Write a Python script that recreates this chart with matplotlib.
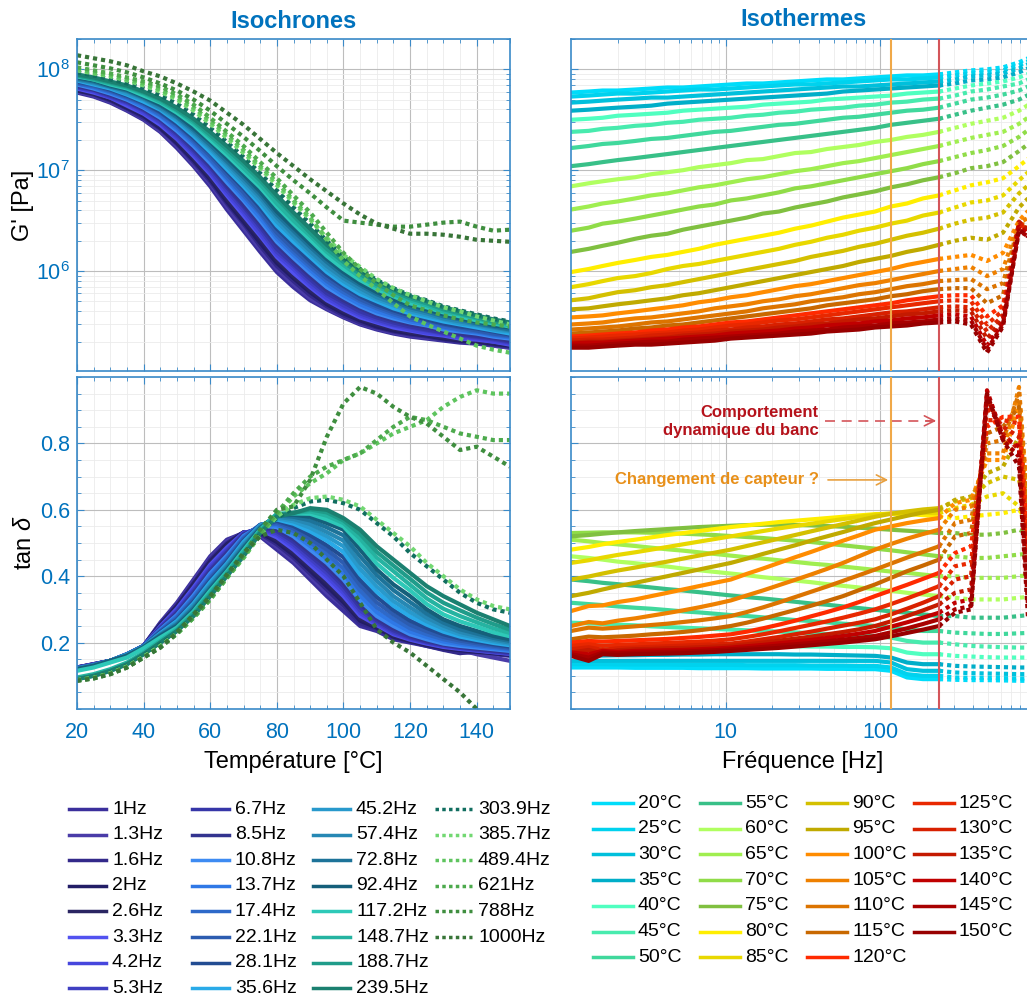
import numpy as np
import matplotlib
matplotlib.use('Agg')
from matplotlib import pyplot as plt
from matplotlib.ticker import MultipleLocator, LogLocator, NullFormatter, FixedLocator, FixedFormatter

plt.rcParams['font.family'] = ['Liberation Sans', 'DejaVu Sans']
plt.rcParams['mathtext.fontset'] = 'custom'
plt.rcParams['mathtext.rm'] = 'Liberation Sans'
plt.rcParams['mathtext.it'] = 'Liberation Sans:italic'

# ---- data -----------------------------------------------------------------
freqs = [1, 1.3, 1.6, 2, 2.6, 3.3, 4.2, 5.3, 6.7, 8.5, 10.8, 13.7, 17.4, 22.1, 28.1,
         35.6, 45.2, 57.4, 72.8, 92.4, 117.2, 148.7, 188.7, 239.5,
         303.9, 385.7, 489.4, 621, 788, 1000]
n_solid = 24          # 1Hz .. 239.5Hz drawn solid, above that dotted
freq_labels = ['%gHz' % f for f in freqs]

temps = [20, 25, 30, 35, 40, 45, 50, 55, 60, 65, 70, 75, 80, 85, 90, 95,
         100, 105, 110, 115, 120, 125, 130, 135, 140, 145, 150]
temp_labels = ['%d°C' % t for t in temps]

freq_colors = ['#3b2f9c', '#4a3ca8', '#33298a', '#221d66', '#2a2562', '#5252f0', '#4646dd', '#3f3fc2',
               '#3636a8', '#33348f', '#3d8bf2', '#2f78e6', '#2e69c9', '#2c5cb0', '#224c92', '#29aae8',
               '#2899cc', '#2688b4', '#1d7399', '#155f7a', '#2ec9b8', '#25b3a1', '#1f9c8a', '#1b8070',
               '#116e60', '#72d872', '#5ec45e', '#4daa4d', '#3f8e3f', '#387538']
temp_colors = ['#00dcfa', '#00d2ee', '#00c0dc', '#00aec8', '#50ffc0', '#48ebae', '#40d89c', '#38c088',
               '#b0ff60', '#a0ee50', '#90dc48', '#80c040', '#ffee00', '#e8d800', '#d4c000', '#c0aa00',
               '#ff8c00', '#ee8000', '#dc7400', '#c86800', '#ff2a00', '#e82800', '#d82000', '#c41a00',
               '#c00000', '#a80000', '#980000']

# log10(G' [Pa]), one row per temperature, one column per frequency
log_gp = [
    [7.77,7.78,7.79,7.79,7.80,7.81,7.82,7.82,7.83,7.84,7.85,7.86,7.86,7.87,7.88,7.89,7.90,7.90,7.91,7.92,7.93,7.94,7.94,7.95, 7.97,7.99,8.00,8.02,8.07,8.14],
    [7.73,7.74,7.75,7.76,7.76,7.77,7.78,7.79,7.80,7.80,7.81,7.82,7.83,7.84,7.85,7.85,7.86,7.87,7.88,7.89,7.90,7.90,7.91,7.92, 7.94,7.96,7.97,7.99,8.04,8.11],
    [7.67,7.68,7.69,7.70,7.71,7.72,7.72,7.73,7.74,7.75,7.76,7.77,7.78,7.79,7.80,7.81,7.82,7.83,7.83,7.84,7.85,7.86,7.87,7.88, 7.90,7.93,7.94,7.96,8.01,8.08],
    [7.59,7.60,7.61,7.62,7.63,7.64,7.66,7.67,7.68,7.69,7.70,7.71,7.72,7.73,7.74,7.75,7.76,7.78,7.79,7.80,7.81,7.82,7.83,7.84, 7.86,7.89,7.90,7.92,7.97,8.04],
    [7.50,7.51,7.52,7.54,7.55,7.56,7.57,7.59,7.60,7.61,7.62,7.63,7.65,7.66,7.67,7.68,7.70,7.71,7.72,7.73,7.74,7.76,7.77,7.78, 7.81,7.84,7.86,7.88,7.92,7.98],
    [7.38,7.39,7.41,7.42,7.44,7.45,7.47,7.48,7.50,7.51,7.52,7.54,7.55,7.57,7.58,7.60,7.61,7.62,7.64,7.65,7.67,7.68,7.70,7.71, 7.74,7.78,7.80,7.83,7.86,7.93],
    [7.22,7.24,7.26,7.27,7.29,7.31,7.32,7.34,7.36,7.38,7.39,7.41,7.43,7.45,7.46,7.48,7.50,7.52,7.53,7.55,7.57,7.59,7.60,7.62, 7.66,7.70,7.72,7.75,7.79,7.86],
    [7.04,7.06,7.08,7.10,7.12,7.14,7.16,7.18,7.20,7.22,7.24,7.26,7.28,7.30,7.32,7.34,7.36,7.38,7.40,7.42,7.45,7.47,7.49,7.51, 7.55,7.59,7.62,7.65,7.70,7.78],
    [6.84,6.87,6.89,6.91,6.93,6.96,6.98,7.00,7.03,7.05,7.07,7.10,7.11,7.14,7.17,7.18,7.21,7.23,7.25,7.28,7.30,7.33,7.35,7.38, 7.42,7.46,7.49,7.52,7.59,7.69],
    [6.61,6.64,6.67,6.69,6.72,6.75,6.77,6.80,6.83,6.85,6.88,6.91,6.93,6.96,6.99,7.01,7.04,7.07,7.09,7.12,7.15,7.18,7.21,7.24, 7.28,7.32,7.35,7.38,7.46,7.57],
    [6.40,6.43,6.47,6.49,6.52,6.55,6.58,6.61,6.64,6.66,6.70,6.72,6.75,6.78,6.82,6.84,6.87,6.90,6.93,6.96,6.99,7.02,7.06,7.09, 7.13,7.17,7.20,7.24,7.33,7.45],
    [6.19,6.22,6.25,6.28,6.32,6.35,6.37,6.41,6.44,6.47,6.50,6.53,6.57,6.59,6.63,6.66,6.69,6.73,6.76,6.79,6.83,6.86,6.90,6.93, 6.97,7.02,7.04,7.08,7.19,7.31],
    [5.99,6.02,6.05,6.08,6.11,6.14,6.16,6.19,6.22,6.26,6.29,6.32,6.35,6.38,6.42,6.45,6.49,6.53,6.56,6.59,6.64,6.67,6.72,6.75, 6.80,6.85,6.88,6.92,7.04,7.17],
    [5.84,5.87,5.90,5.93,5.95,5.98,6.02,6.05,6.07,6.10,6.13,6.16,6.19,6.22,6.26,6.29,6.33,6.36,6.40,6.43,6.47,6.50,6.55,6.58, 6.63,6.68,6.70,6.75,6.90,7.04],
    [5.71,5.73,5.76,5.79,5.81,5.84,5.86,5.89,5.92,5.95,5.98,6.01,6.04,6.07,6.10,6.14,6.17,6.20,6.24,6.27,6.31,6.35,6.38,6.42, 6.47,6.51,6.53,6.58,6.77,6.91],
    [5.62,5.63,5.65,5.67,5.69,5.71,5.73,5.76,5.78,5.81,5.84,5.87,5.90,5.93,5.96,5.99,6.02,6.05,6.09,6.12,6.15,6.19,6.22,6.26, 6.30,6.33,6.31,6.38,6.63,6.79],
    [5.54,5.55,5.56,5.58,5.60,5.62,5.64,5.66,5.69,5.71,5.74,5.76,5.79,5.82,5.85,5.87,5.90,5.93,5.96,5.99,6.02,6.06,6.09,6.12, 6.14,6.16,6.10,6.18,6.50,6.67],
    [5.47,5.48,5.49,5.51,5.53,5.54,5.56,5.58,5.60,5.63,5.65,5.67,5.70,5.72,5.75,5.77,5.80,5.83,5.86,5.88,5.91,5.94,5.97,6.00, 6.02,6.04,5.95,6.02,6.48,6.56],
    [5.42,5.43,5.44,5.45,5.47,5.49,5.50,5.52,5.54,5.56,5.58,5.60,5.63,5.65,5.67,5.70,5.72,5.74,5.77,5.79,5.82,5.85,5.87,5.90, 5.91,5.92,5.82,5.88,6.46,6.47],
    [5.38,5.39,5.40,5.41,5.43,5.44,5.46,5.47,5.49,5.51,5.53,5.55,5.57,5.59,5.61,5.63,5.66,5.68,5.70,5.72,5.75,5.77,5.80,5.82, 5.83,5.83,5.68,5.76,6.44,6.42],
    [5.35,5.36,5.37,5.38,5.39,5.41,5.42,5.44,5.45,5.47,5.49,5.50,5.52,5.54,5.56,5.58,5.60,5.62,5.64,5.66,5.68,5.71,5.73,5.75, 5.76,5.76,5.55,5.66,6.44,6.37],
    [5.33,5.34,5.35,5.36,5.37,5.38,5.39,5.41,5.42,5.44,5.46,5.47,5.49,5.51,5.52,5.54,5.56,5.58,5.60,5.62,5.64,5.66,5.68,5.70, 5.71,5.70,5.47,5.61,6.46,6.37],
    [5.31,5.32,5.32,5.33,5.34,5.36,5.37,5.38,5.39,5.41,5.42,5.44,5.45,5.47,5.48,5.50,5.52,5.53,5.55,5.57,5.59,5.60,5.62,5.64, 5.65,5.64,5.40,5.56,6.48,6.36],
    [5.29,5.30,5.30,5.31,5.32,5.33,5.34,5.36,5.37,5.38,5.40,5.41,5.42,5.44,5.45,5.47,5.48,5.50,5.52,5.53,5.55,5.57,5.58,5.60, 5.61,5.60,5.33,5.52,6.49,6.34],
    [5.28,5.29,5.29,5.30,5.31,5.32,5.33,5.34,5.35,5.36,5.38,5.39,5.40,5.41,5.43,5.44,5.46,5.47,5.48,5.50,5.51,5.53,5.54,5.56, 5.57,5.55,5.26,5.49,6.44,6.31],
    [5.26,5.26,5.27,5.28,5.29,5.30,5.30,5.32,5.33,5.34,5.35,5.36,5.37,5.38,5.40,5.41,5.42,5.44,5.45,5.46,5.48,5.49,5.50,5.52, 5.53,5.51,5.22,5.47,6.40,6.30],
    [5.24,5.24,5.25,5.26,5.27,5.27,5.28,5.29,5.30,5.31,5.33,5.34,5.35,5.36,5.37,5.38,5.40,5.41,5.42,5.44,5.45,5.46,5.48,5.49, 5.50,5.47,5.19,5.45,6.41,6.29],
]

# tan delta, same layout
tan_delta = [
    [.125,.125,.125,.125,.124,.124,.124,.124,.123,.123,.123,.123,.122,.122,.122,.122,.121,.121,.120,.120,.115,.095,.090,.090, .088,.087,.087,.086,.085,.085],
    [.135,.135,.135,.134,.134,.134,.134,.133,.133,.133,.133,.132,.132,.132,.132,.131,.131,.131,.130,.130,.125,.105,.100,.100, .095,.094,.094,.093,.092,.092],
    [.145,.145,.145,.145,.145,.145,.145,.145,.145,.145,.145,.145,.145,.145,.145,.145,.145,.145,.145,.145,.140,.120,.115,.115, .110,.108,.107,.106,.105,.105],
    [.160,.160,.161,.162,.162,.163,.163,.164,.164,.165,.165,.165,.165,.165,.164,.164,.163,.162,.161,.160,.155,.140,.135,.135, .130,.128,.127,.126,.125,.125],
    [.190,.190,.190,.190,.190,.190,.190,.190,.190,.190,.190,.190,.190,.189,.189,.188,.188,.187,.187,.186,.183,.170,.165,.165, .160,.158,.156,.155,.155,.155],
    [.260,.258,.256,.254,.252,.249,.247,.245,.243,.241,.239,.237,.235,.233,.231,.228,.226,.224,.222,.220,.215,.205,.200,.200, .195,.190,.188,.186,.185,.185],
    [.320,.316,.313,.309,.305,.302,.298,.294,.291,.287,.283,.280,.276,.272,.268,.265,.261,.257,.254,.250,.245,.240,.235,.235, .230,.228,.226,.226,.228,.230],
    [.390,.385,.380,.376,.371,.366,.361,.357,.352,.347,.342,.337,.333,.328,.323,.318,.314,.309,.304,.299,.294,.290,.285,.280, .280,.275,.275,.275,.280,.285],
    [.460,.455,.450,.444,.439,.434,.429,.423,.418,.413,.408,.403,.397,.392,.387,.382,.376,.371,.366,.361,.356,.350,.345,.340, .335,.330,.330,.330,.335,.340],
    [.510,.505,.500,.496,.491,.486,.481,.477,.472,.467,.462,.457,.453,.448,.443,.438,.434,.429,.424,.419,.414,.410,.405,.400, .400,.395,.395,.395,.400,.405],
    [.530,.531,.532,.532,.532,.531,.530,.528,.526,.524,.521,.518,.515,.511,.507,.503,.498,.493,.488,.483,.478,.472,.466,.460, .460,.455,.455,.460,.465,.470],
    [.520,.524,.528,.532,.536,.539,.542,.545,.548,.550,.552,.554,.555,.555,.554,.553,.551,.549,.546,.543,.540,.537,.534,.530, .530,.525,.525,.530,.540,.520],
    [.480,.488,.496,.503,.510,.517,.524,.530,.536,.542,.548,.553,.558,.563,.567,.571,.575,.579,.583,.587,.588,.587,.584,.580, .575,.580,.585,.590,.600,.540],
    [.440,.448,.456,.464,.472,.480,.488,.496,.504,.512,.520,.528,.536,.544,.551,.558,.565,.572,.579,.585,.589,.591,.591,.590, .605,.615,.640,.650,.610,.530],
    [.390,.399,.408,.417,.426,.435,.444,.453,.462,.471,.480,.491,.502,.513,.524,.535,.546,.557,.568,.579,.588,.595,.601,.605, .625,.635,.680,.700,.690,.500],
    [.340,.350,.360,.370,.380,.390,.400,.410,.420,.430,.440,.453,.467,.480,.493,.507,.520,.533,.547,.560,.571,.582,.592,.600, .630,.640,.710,.730,.820,.450],
    [.295,.310,.312,.322,.330,.340,.350,.360,.370,.380,.390,.407,.423,.440,.457,.473,.490,.507,.523,.540,.550,.560,.568,.575, .620,.630,.750,.750,.920,.400],
    [.250,.262,.258,.266,.273,.281,.289,.297,.306,.316,.327,.342,.357,.373,.389,.405,.422,.440,.460,.480,.497,.513,.527,.540, .600,.610,.770,.770,.970,.320],
    [.235,.245,.242,.245,.249,.253,.257,.262,.267,.273,.280,.292,.306,.321,.337,.353,.369,.386,.403,.420,.438,.456,.473,.490, .560,.570,.800,.810,.950,.240],
    [.210,.218,.216,.218,.221,.225,.228,.232,.237,.243,.250,.260,.272,.285,.298,.311,.325,.340,.358,.375,.395,.415,.432,.450, .520,.530,.830,.850,.910,.200],
    [.200,.205,.203,.205,.207,.209,.211,.214,.217,.221,.225,.233,.243,.254,.266,.279,.292,.306,.322,.340,.357,.374,.392,.410, .470,.490,.850,.880,.880,.170],
    [.190,.195,.190,.193,.195,.197,.199,.201,.203,.206,.210,.217,.225,.234,.244,.254,.264,.275,.287,.300,.316,.333,.351,.370, .430,.440,.870,.870,.860,.130],
    [.180,.186,.178,.183,.185,.187,.189,.191,.193,.195,.197,.203,.210,.217,.225,.233,.242,.251,.260,.270,.285,.302,.320,.340, .390,.400,.910,.850,.820,.090],
    [.170,.178,.168,.177,.180,.181,.183,.184,.186,.188,.190,.195,.200,.206,.212,.218,.225,.232,.240,.250,.264,.280,.297,.315, .350,.360,.940,.830,.780,.050],
    [.170,.165,.175,.172,.175,.176,.177,.178,.180,.182,.185,.189,.193,.198,.203,.208,.214,.220,.227,.235,.248,.261,.275,.290, .320,.330,.960,.820,.790,.000],
    [.165,.155,.170,.168,.170,.171,.172,.173,.175,.177,.180,.183,.187,.191,.195,.199,.204,.209,.214,.220,.231,.243,.256,.270, .300,.310,.950,.810,.760,-.040],
    [.160,.145,.165,.163,.165,.166,.167,.168,.170,.172,.175,.178,.181,.184,.188,.192,.196,.200,.205,.210,.219,.229,.239,.250, .290,.300,.950,.810,.730,-.080],
]

gp = 10 ** np.array(log_gp)
tand = np.array(tan_delta)

# ---- style ----------------------------------------------------------------
BLUE = '#0072bd'
SPINE = '#3a8ac8'
DOT = (0, (1, 0.95))
LW = 3.0

def style_axes(ax):
  ax.set_axisbelow(True)
  for s in ax.spines.values():
    s.set_color(SPINE)
    s.set_linewidth(1.2)
  ax.tick_params(which='both', direction='in', top=True, right=True, color=SPINE,
                 labelcolor=BLUE, labelsize=15.5)
  ax.tick_params(axis='x', which='both', pad=9)
  ax.tick_params(axis='y', which='both', pad=5)
  ax.tick_params(which='major', length=5)
  ax.tick_params(which='minor', length=3)
  ax.grid(which='major', color='#bdbdbd', lw=0.8)
  ax.grid(which='minor', color='#ebebeb', lw=0.6)

fig = plt.figure(figsize=(10.27, 10), dpi=100)
W, H = 1027., 1000.
def box(x0, y0, x1, y1):
  return [x0 / W, 1 - y1 / H, (x1 - x0) / W, (y1 - y0) / H]

ax_g_t = fig.add_axes(box(77, 39, 510, 371))
ax_d_t = fig.add_axes(box(77, 377, 510, 709))
ax_g_f = fig.add_axes(box(571, 39, 1035, 371))
ax_d_f = fig.add_axes(box(571, 377, 1035, 709))

# isochrones
for j in range(len(freqs)):
  ls = '-' if j < n_solid else DOT
  ax_g_t.plot(temps, gp[:, j], color=freq_colors[j], lw=LW, ls=ls)
  ax_d_t.plot(temps, tand[:, j], color=freq_colors[j], lw=LW, ls=ls)

# isothermes
for k in range(len(temps)):
  ax_g_f.plot(freqs[:n_solid], gp[k, :n_solid], color=temp_colors[k], lw=LW)
  ax_g_f.plot(freqs[n_solid - 1:], gp[k, n_solid - 1:], color=temp_colors[k], lw=LW, ls=DOT)
  ax_d_f.plot(freqs[:n_solid], tand[k, :n_solid], color=temp_colors[k], lw=LW)
  ax_d_f.plot(freqs[n_solid - 1:], tand[k, n_solid - 1:], color=temp_colors[k], lw=LW, ls=DOT)

for ax in [ax_g_t, ax_d_t, ax_g_f, ax_d_f]:
  style_axes(ax)

for ax in [ax_g_t, ax_g_f]:
  ax.set_yscale('log')
  ax.set_ylim(1.02e5, 2e8)
  ax.yaxis.set_minor_locator(LogLocator(subs=np.arange(2, 10)))
  ax.yaxis.set_minor_formatter(NullFormatter())
for ax in [ax_d_t, ax_d_f]:
  ax.set_ylim(0, 1)
  ax.yaxis.set_major_locator(FixedLocator([0.2, 0.4, 0.6, 0.8]))
  ax.yaxis.set_minor_locator(MultipleLocator(0.05))
for ax in [ax_g_t, ax_d_t]:
  ax.set_xlim(20, 150)
  ax.xaxis.set_major_locator(MultipleLocator(20))
  ax.xaxis.set_minor_locator(MultipleLocator(5))
for ax in [ax_g_f, ax_d_f]:
  ax.set_xscale('log')
  ax.set_xlim(1, 1000)
  ax.xaxis.set_major_locator(FixedLocator([10, 100]))
  ax.xaxis.set_major_formatter(FixedFormatter(['10', '100']))
  ax.xaxis.set_minor_locator(LogLocator(subs=np.arange(2, 10)))
  ax.xaxis.set_minor_formatter(NullFormatter())
  ax.tick_params(axis='y', labelleft=False)
  # sensor change and bench dynamics limits
  ax.axvline(freqs[20], color='#f0a848', lw=1.5, zorder=5)
  ax.axvline(freqs[23], color='#d4555a', lw=1.5, zorder=5)

ax_g_t.tick_params(axis='x', labelbottom=False)
ax_g_f.tick_params(axis='x', labelbottom=False)

ax_g_t.set_ylabel("G' [Pa]", fontsize=17)
ax_d_t.set_ylabel(r'tan $\delta$', fontsize=17)
ax_g_t.yaxis.set_label_coords(-0.10, 0.5)
ax_d_t.yaxis.set_label_coords(-0.095, 0.5)
ax_d_t.set_xlabel('Température [°C]', fontsize=17, labelpad=6)
ax_d_f.set_xlabel('Fréquence [Hz]', fontsize=17, labelpad=6)
ax_g_t.set_title('Isochrones', color=BLUE, fontsize=17, fontweight='bold', pad=8)
fig.text((571 + 1035) / 2 / W, 1 - 20 / H, 'Isothermes', color=BLUE, fontsize=17,
         fontweight='bold', ha='center', va='center')

# annotations
ax_d_f.text(40, 0.865, 'Comportement\ndynamique du banc', color='#b5121b', fontsize=12,
            fontweight='bold', ha='right', va='center', multialignment='right', linespacing=1.25)
ax_d_f.plot([44, 225], [0.868, 0.868], color='#d4555a', lw=1.2, ls=(0, (6, 4)))
ax_d_f.annotate('', xy=(freqs[23], 0.868), xytext=(190, 0.868),
                arrowprops=dict(arrowstyle='->', color='#d4555a', lw=1.2, mutation_scale=18))
ax_d_f.text(40, 0.69, 'Changement de capteur ?', color='#e8901a', fontsize=12,
            fontweight='bold', ha='right', va='center')
ax_d_f.annotate('', xy=(freqs[20], 0.69), xytext=(44, 0.69),
                arrowprops=dict(arrowstyle='->', color='#e8a040', lw=1.2, mutation_scale=18))

# legends (MATLAB style fixed column grid)
lax = fig.add_axes([0, 0, 1, 1])
lax.set_xlim(0, W)
lax.set_ylim(H, 0)
lax.axis('off')
for j in range(len(freqs)):
  col, row = divmod(j, 8)
  x0 = [69, 192, 313, 435][col]
  y0 = 809 + row * 25.6
  ls = '-' if j < n_solid else DOT
  lax.plot([x0, x0 + 37], [y0, y0], color=freq_colors[j], lw=2.5, ls=ls)
  lax.text(x0 + 43, y0, freq_labels[j], va='center', fontsize=14)
for k in range(len(temps)):
  col, row = divmod(k, 7)
  x0 = [593, 700, 807, 914][col]
  y0 = 803 + row * 25.7
  lax.plot([x0, x0 + 40], [y0, y0], color=temp_colors[k], lw=2.5)
  lax.text(x0 + 45, y0, temp_labels[k], va='center', fontsize=14)

fig.savefig('out.png', dpi=100)
